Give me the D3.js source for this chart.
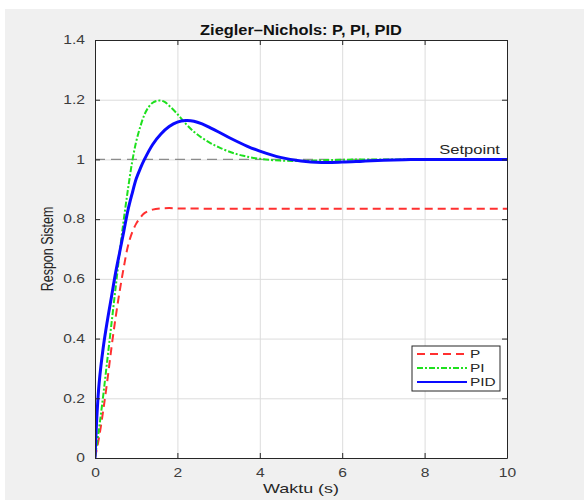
<!DOCTYPE html>
<html>
<head>
<meta charset="utf-8">
<script src="https://cdn.jsdelivr.net/npm/d3@7"></script>
<style>
  body { margin: 0; background: #ffffff; }
  svg { display: block; font-family: "Liberation Sans", Arial, sans-serif; }
</style>
</head>
<body>
<svg id="chart" width="584" height="500"></svg>
<script>
/* Data. */
const timeP = [0, 0.1, 0.2, 0.3, 0.4, 0.5, 0.6, 0.7, 0.8, 0.9, 1.0, 1.1, 1.2, 1.4, 1.6, 1.8, 2.0, 3, 4, 5, 6, 7, 8, 9, 10]
const valuesP = [0, 0.07, 0.16, 0.26, 0.37, 0.47, 0.56, 0.64, 0.71, 0.755, 0.785, 0.805, 0.82, 0.832, 0.836, 0.837, 0.836, 0.835, 0.835, 0.835, 0.835, 0.835, 0.835, 0.835, 0.835]

const timePI = [0, 0.1, 0.2, 0.3, 0.4, 0.5, 0.6, 0.7, 0.8, 0.9, 1.0, 1.1, 1.2, 1.3, 1.4, 1.5, 1.6, 1.7, 1.8, 2.0, 2.2, 2.4, 2.6, 2.8, 3.0, 3.3, 3.6, 4.0, 4.5, 5.0, 5.5, 6, 7, 8, 9, 10]
const valuesPI = [0, 0.1, 0.21, 0.33, 0.45, 0.57, 0.69, 0.8, 0.9, 0.99, 1.06, 1.11, 1.15, 1.175, 1.19, 1.196, 1.197, 1.192, 1.18, 1.152, 1.12, 1.093, 1.072, 1.055, 1.041, 1.024, 1.012, 1.002, 0.996, 0.995, 0.997, 0.999, 1.0, 1.0, 1.0, 1.0]

const timePID = [0, 0.05, 0.1, 0.2, 0.3, 0.4, 0.5, 0.6, 0.7, 0.8, 0.9, 1.0, 1.1, 1.2, 1.4, 1.6, 1.8, 2.0, 2.2, 2.4, 2.6, 2.8, 3.0, 3.3, 3.7, 4.0, 4.5, 5.0, 5.5, 6.0, 6.5, 7.0, 7.5, 8, 9, 10]
const valuesPID = [0, 0.15, 0.25, 0.37, 0.46, 0.54, 0.62, 0.69, 0.76, 0.83, 0.885, 0.935, 0.97, 1.0, 1.05, 1.085, 1.11, 1.125, 1.13, 1.128, 1.119, 1.106, 1.092, 1.07, 1.044, 1.028, 1.007, 0.995, 0.99, 0.991, 0.994, 0.997, 0.999, 1.0, 1.0, 1.0]

const setpoint = 1
const xTicks = [0, 2, 4, 6, 8, 10]
const yTicks = [0, 0.2, 0.4, 0.6, 0.8, 1, 1.2, 1.4]
const seriesNames = ["P", "PI", "PID"]

/* Layout. */
const margin = { left: 95, top: 40, right: 77, bottom: 42 }
const width = 584 - margin.left - margin.right
const height = 500 - margin.top - margin.bottom

/* The source picture is stretched sideways, so widen horizontal text. */
const stretch = (sel, k) => sel.each(function () {
  const len = this.getComputedTextLength()
  d3.select(this).attr("textLength", len * k).attr("lengthAdjust", "spacingAndGlyphs")
})

const svg = d3.select("#chart")

/* Gray figure background. */
svg.append("rect")
  .attr("x", 5).attr("y", 9)
  .attr("width", 579).attr("height", 491)
  .attr("fill", "#f0f0f0")

const g = svg.append("g")
  .attr("transform", `translate(${margin.left},${margin.top})`)

g.append("rect")
  .attr("width", width).attr("height", height)
  .attr("fill", "#ffffff")

/* Scales. */
const xScale = d3.scaleLinear().domain([0, 10]).range([0, width])
const yScale = d3.scaleLinear().domain([0, 1.4]).range([height, 0])

/* Grid. */
g.append("g")
  .call(d3.axisBottom(xScale).tickValues(xTicks).tickSize(height).tickFormat(""))
  .call(a => a.select(".domain").remove())
  .selectAll("line").attr("stroke", "#dcdcdc")
g.append("g")
  .call(d3.axisLeft(yScale).tickValues(yTicks).tickSize(-width).tickFormat(""))
  .call(a => a.select(".domain").remove())
  .selectAll("line").attr("stroke", "#dcdcdc")

/* Setpoint line. */
g.append("line")
  .attr("x1", xScale(0)).attr("x2", xScale(10))
  .attr("y1", yScale(setpoint)).attr("y2", yScale(setpoint))
  .attr("stroke", "#8c8c8c")
  .attr("stroke-width", 1.2)
  .attr("stroke-dasharray", "10,6")

g.append("text")
  .attr("x", xScale(10) - 7)
  .attr("y", yScale(setpoint) - 5)
  .attr("text-anchor", "end")
  .attr("font-size", 12)
  .attr("fill", "#262626")
  .text("Setpoint")
  .call(stretch, 1.38)

/* Lines. */
const line = d3.line()
  .x(d => xScale(d[0]))
  .y(d => yScale(d[1]))
  .curve(d3.curveCatmullRom.alpha(0.5))

const styles = [
  { color: "#ff3030", width: 2, dash: "8,5" },
  { color: "#1ee01e", width: 2, dash: "6,2,2,2" },
  { color: "#0a0aff", width: 3, dash: null }
]
const seriesData = [
  d3.zip(timeP, valuesP),
  d3.zip(timePI, valuesPI),
  d3.zip(timePID, valuesPID)
]

const clip = g.append("clipPath").attr("id", "clip")
clip.append("rect").attr("width", width).attr("height", height)

g.append("g").attr("clip-path", "url(#clip)")
  .selectAll("path")
  .data(seriesData)
  .join("path")
  .attr("d", d => line(d))
  .attr("fill", "none")
  .attr("stroke", (d, i) => styles[i].color)
  .attr("stroke-width", (d, i) => styles[i].width)
  .attr("stroke-dasharray", (d, i) => styles[i].dash)

/* Axes with inward ticks on all sides. */
const tickColor = "#262626"
const styleAxis = a => {
  a.select(".domain").attr("stroke", tickColor)
  a.selectAll(".tick line").attr("stroke", tickColor)
  a.selectAll("text").attr("fill", "#3c3c3c").attr("font-size", 12)
    .attr("font-family", "Liberation Sans, Arial, sans-serif")
    .call(stretch, 1.3)
}

g.append("g")
  .attr("transform", `translate(0,${height})`)
  .call(d3.axisBottom(xScale).tickValues(xTicks).tickSizeInner(-5).tickSizeOuter(0).tickPadding(10))
  .call(styleAxis)
g.append("g")
  .call(d3.axisTop(xScale).tickValues(xTicks).tickSizeInner(-5).tickSizeOuter(0).tickFormat(""))
  .call(styleAxis)
g.append("g")
  .call(d3.axisLeft(yScale).tickValues(yTicks).tickSizeInner(-5).tickSizeOuter(0).tickPadding(10).tickFormat(d3.format("~g")))
  .call(styleAxis)
g.append("g")
  .attr("transform", `translate(${width},0)`)
  .call(d3.axisRight(yScale).tickValues(yTicks).tickSizeInner(-5).tickSizeOuter(0).tickFormat(""))
  .call(styleAxis)

/* Title and axis labels. */
svg.append("text")
  .attr("x", margin.left + width / 2)
  .attr("y", 35)
  .attr("text-anchor", "middle")
  .attr("font-size", 14)
  .attr("font-weight", "bold")
  .attr("fill", "#111")
  .text("Ziegler–Nichols: P, PI, PID")
  .call(stretch, 1.17)

svg.append("text")
  .attr("x", margin.left + width / 2)
  .attr("y", 493)
  .attr("text-anchor", "middle")
  .attr("font-size", 13)
  .attr("fill", "#262626")
  .text("Waktu (s)")
  .call(stretch, 1.38)

svg.append("text")
  .attr("transform", `translate(53,${margin.top + height / 2}) scale(1.35,1) rotate(-90)`)
  .attr("text-anchor", "middle")
  .attr("font-size", 12.5)
  .attr("fill", "#262626")
  .text("Respon Sistem")

/* Legend. */
const legend = svg.append("g").attr("transform", "translate(412,346)")
legend.append("rect")
  .attr("width", 88).attr("height", 45)
  .attr("fill", "#ffffff")
  .attr("stroke", "#262626")
  .attr("stroke-width", 1)

const entries = legend.selectAll("g")
  .data(seriesNames)
  .join("g")
  .attr("transform", (d, i) => `translate(0,${8 + i * 14})`)
entries.append("line")
  .attr("x1", 5).attr("x2", 55)
  .attr("stroke", (d, i) => styles[i].color)
  .attr("stroke-width", (d, i) => i === 2 ? 2 : 1.8)
  .attr("stroke-dasharray", (d, i) => styles[i].dash)
entries.append("text")
  .attr("x", 58)
  .attr("y", 4)
  .attr("font-size", 11)
  .attr("fill", "#262626")
  .text(d => d)
  .call(stretch, 1.4)
</script>
</body>
</html>
